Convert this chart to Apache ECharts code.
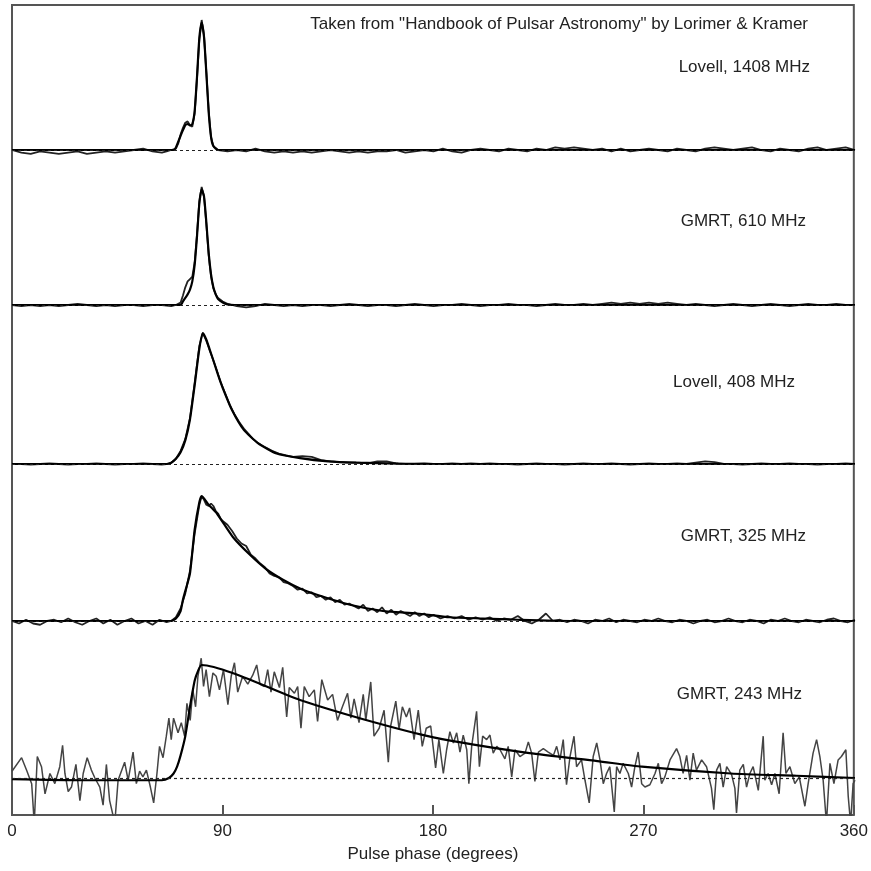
<!DOCTYPE html>
<html>
<head>
<meta charset="utf-8">
<script src="https://cdn.jsdelivr.net/npm/echarts@6/dist/echarts.min.js"></script>
<style>
  html, body { margin: 0; padding: 0; background: #fff; }
  #chart { width: 871px; height: 871px; }
</style>
</head>
<body>
<div id="chart"></div>
<script>
// tick labels on the phase axis
const phaseTicks = [0, 90, 180, 270, 360];
const labels = ['Lovell, 1408 MHz', 'GMRT, 610 MHz', 'Lovell, 408 MHz', 'GMRT, 325 MHz', 'GMRT, 243 MHz'];

// observed profiles, [phase (deg), normalised flux]
const obs1408 = [[0,0],[4,-0.02],[8,-0.03],[12,-0.01],[16,-0.02],[20,-0.03],[24,-0.02],[28,-0.01],[32,-0.03],[36,-0.02],[40,-0.01],[44,-0.02],[48,-0.01],[52,0.0],[56,0.01],[60,-0.01],[64,-0.02],[66,-0.01],[68,0.0],[70,0.01],[71,0.05],[72,0.12],[73,0.17],[74,0.21],[75,0.22],[76,0.19],[77,0.18],[78,0.28],[79,0.55],[80,0.85],[81,1.0],[82,0.88],[83,0.6],[84,0.3],[85,0.1],[86,0.03],[88,0.0],[92,-0.01],[96,0.0],[100,-0.01],[104,0.01],[108,-0.01],[112,-0.02],[116,-0.01],[120,-0.02],[124,-0.01],[128,-0.02],[132,-0.01],[136,0.0],[140,-0.01],[144,-0.02],[148,-0.01],[152,-0.02],[156,-0.01],[160,-0.01],[164,0.0],[168,-0.02],[172,-0.01],[176,0.0],[180,-0.01],[184,0.01],[188,-0.01],[192,-0.02],[196,0.0],[200,0.01],[204,0.0],[208,-0.01],[212,0.01],[216,0.0],[220,-0.01],[224,0.01],[228,0.0],[232,0.02],[236,0.01],[240,0.02],[244,0.01],[248,0.0],[252,0.01],[256,-0.01],[260,0.01],[264,-0.01],[268,0.0],[272,0.01],[276,0.0],[280,-0.01],[284,0.01],[288,0.0],[292,-0.01],[296,0.01],[300,0.02],[304,0.01],[308,0.0],[312,0.01],[316,0.02],[320,0.0],[324,-0.01],[328,0.01],[332,0.0],[336,-0.01],[340,0.01],[344,0.02],[348,0.0],[352,0.01],[356,0.02],[360,0.0]];
const obs610 = [[0,0],[4,-0.01],[8,0.0],[12,-0.01],[16,0.0],[20,-0.01],[24,0.0],[28,0.01],[32,0.0],[36,-0.01],[40,0.0],[44,-0.01],[48,0.0],[52,0.0],[56,-0.01],[60,0.0],[64,0.0],[68,-0.01],[70,0.0],[72,0.02],[73,0.08],[74,0.15],[75,0.2],[76,0.22],[77,0.24],[78,0.36],[79,0.6],[80,0.88],[81,1.0],[82,0.92],[83,0.68],[84,0.42],[85,0.24],[86,0.14],[87,0.09],[88,0.06],[90,0.03],[92,0.01],[94,0.0],[96,-0.01],[100,-0.02],[104,-0.01],[108,0.01],[112,0.0],[116,-0.01],[120,0.0],[124,-0.01],[128,0.0],[132,0.0],[136,-0.01],[140,0.0],[144,0.01],[148,0.0],[152,-0.01],[156,0.0],[160,0.0],[164,-0.01],[168,0.0],[172,0.01],[176,0.0],[180,-0.01],[184,0.0],[188,0.0],[192,0.01],[196,0.0],[200,-0.01],[204,0.0],[208,0.0],[212,0.01],[216,0.0],[220,0.0],[224,-0.01],[228,0.0],[232,0.01],[236,0.0],[240,0.0],[244,0.01],[248,0.0],[252,0.01],[256,0.02],[260,0.01],[264,0.02],[268,0.01],[272,0.02],[276,0.01],[280,0.02],[284,0.01],[288,0.0],[292,0.01],[296,0.0],[300,-0.01],[304,0.0],[308,0.01],[312,0.0],[316,-0.01],[320,0.0],[324,0.01],[328,0.0],[332,-0.01],[336,0.0],[340,0.01],[344,0.0],[348,0.0],[352,0.01],[356,0.0],[360,0.0]];
const obs408 = [[0,0],[4,0.0],[8,-0.005],[12,0.0],[16,0.005],[20,0.0],[24,-0.005],[28,0.0],[32,0.0],[36,0.005],[40,0.0],[44,-0.005],[48,0.0],[52,0.0],[56,0.005],[60,0.0],[64,-0.005],[66,0.0],[68,0.01],[70,0.04],[72,0.1],[74,0.19],[76,0.35],[78,0.62],[80,0.9],[81.5,1.0],[83,0.94],[85,0.84],[87,0.74],[89,0.63],[91,0.54],[93,0.45],[95,0.38],[97,0.32],[99,0.27],[101,0.23],[103,0.19],[105,0.16],[108,0.13],[111,0.1],[114,0.08],[117,0.065],[120,0.055],[124,0.06],[128,0.055],[132,0.03],[136,0.02],[140,0.015],[144,0.01],[148,0.01],[152,0.005],[156,0.02],[160,0.02],[164,0.005],[168,0.0],[172,0.0],[176,0.005],[180,0.0],[184,0.0],[188,0.005],[192,0.0],[196,0.005],[200,0.0],[204,0.005],[208,0.0],[212,0.0],[216,-0.005],[220,0.0],[224,0.005],[228,0.0],[232,0.0],[236,-0.005],[240,0.0],[244,0.005],[248,0.0],[252,0.0],[256,0.005],[260,0.0],[264,-0.005],[268,0.0],[272,0.005],[276,0.0],[280,0.0],[284,0.005],[288,0.0],[292,0.01],[296,0.02],[300,0.015],[304,0.0],[308,0.0],[312,-0.005],[316,0.0],[320,0.005],[324,0.0],[328,0.0],[332,0.005],[336,0.0],[340,0.0],[344,-0.005],[348,0.0],[352,0.0],[356,0.005],[360,0.0]];
const obs325 = [[0,0.0],[3,-0.02],[6,0.01],[9,-0.02],[12,-0.03],[15,0.0],[18,0.01],[21,-0.01],[24,0.02],[27,-0.01],[30,-0.03],[33,0.0],[36,0.02],[39,-0.02],[42,0.01],[45,-0.03],[48,0.0],[51,0.02],[54,-0.02],[57,0.0],[60,-0.03],[63,0.01],[66,-0.01],[68,0.0],[70,0.03],[72,0.1],[74,0.22],[76,0.4],[78,0.7],[80,0.93],[81,1.0],[82,0.97],[83,0.93],[84,0.92],[85,0.94],[86,0.92],[87,0.88],[88,0.86],[89,0.82],[90,0.8],[92,0.77],[94,0.72],[96,0.66],[98,0.62],[100,0.6],[102,0.53],[104,0.5],[106,0.46],[108,0.43],[110,0.38],[112,0.36],[114,0.35],[116,0.31],[118,0.3],[120,0.28],[122,0.25],[124,0.26],[126,0.22],[128,0.23],[130,0.19],[132,0.2],[134,0.17],[136,0.19],[138,0.15],[140,0.17],[142,0.13],[144,0.14],[146,0.12],[148,0.1],[150,0.13],[152,0.08],[154,0.1],[156,0.07],[158,0.11],[160,0.06],[162,0.09],[164,0.05],[166,0.08],[168,0.06],[170,0.04],[172,0.07],[174,0.04],[176,0.06],[178,0.03],[180,0.05],[183,0.02],[186,0.04],[189,0.02],[192,0.04],[195,0.01],[198,0.03],[201,0.01],[204,0.03],[207,0.0],[210,0.02],[213,0.01],[216,0.04],[219,0.0],[222,-0.02],[225,0.01],[228,0.06],[231,0.0],[234,0.01],[237,-0.01],[240,0.01],[243,0.0],[246,-0.02],[249,0.01],[252,0.0],[255,0.02],[258,-0.01],[261,0.01],[264,0.0],[267,-0.01],[270,0.01],[273,0.0],[276,0.02],[279,0.0],[282,-0.01],[285,0.01],[288,0.0],[291,-0.02],[294,0.0],[297,0.01],[300,-0.01],[303,0.0],[306,0.02],[309,0.0],[312,-0.01],[315,0.01],[318,0.0],[321,-0.02],[324,0.01],[327,0.0],[330,0.02],[333,0.0],[336,-0.01],[339,0.01],[342,0.0],[345,-0.01],[348,0.01],[351,0.02],[354,0.0],[357,-0.01],[360,0.01]];
const obs243 = [[0,0.06],[4.1,0.18],[6.2,0.07],[8.4,-0.05],[9.5,-0.4],[10.8,0.19],[12.6,0.1],[14.1,-0.14],[16.2,0.04],[18.3,-0.05],[20.4,0.1],[21.6,0.29],[22.6,0.04],[24,-0.12],[25.4,-0.08],[27.3,0.12],[29,-0.2],[30.4,0.04],[32.1,0.18],[33.9,0.07],[35.4,0.0],[37.5,-0.08],[38.9,-0.24],[40.3,0.12],[41.7,-0.2],[43.9,-0.4],[45.3,-0.02],[46.7,0.06],[48.1,0.14],[49.6,-0.02],[51.7,0.23],[53.1,-0.05],[54.5,0.06],[55.9,0.01],[57.4,0.07],[59.1,-0.08],[60.5,-0.22],[61.9,0.04],[63,0.28],[64.5,0.18],[65.9,0.37],[67,0.53],[68,0.34],[69,0.53],[70.9,0.4],[72.3,0.49],[73.7,0.37],[74.7,0.66],[76.1,0.51],[77.2,0.78],[78.4,0.63],[79.4,0.9],[80.8,1.06],[81.8,0.81],[82.9,0.96],[84.3,0.72],[85.8,0.93],[87.2,0.9],[88.6,0.78],[90.3,0.96],[92.2,0.65],[93.6,0.9],[95,1.02],[96.4,0.76],[98.5,0.9],[100.7,0.83],[102.8,0.91],[104.5,1.0],[105.9,0.83],[107.8,0.81],[109.2,0.96],[110.6,0.76],[112,0.94],[114.2,0.8],[115.6,0.98],[117.3,0.54],[118.4,0.8],[120.6,0.75],[122,0.81],[123.4,0.44],[124.8,0.81],[126.9,0.72],[129.1,0.78],[130.5,0.5],[132.3,0.87],[134.8,0.69],[136.9,0.74],[139,0.51],[141.1,0.63],[143.3,0.75],[144.7,0.53],[146.1,0.7],[148.2,0.49],[150,0.74],[151.1,0.51],[153.2,0.85],[154.6,0.37],[156.8,0.44],[158.9,0.6],[160.7,0.14],[161.7,0.46],[163.9,0.68],[165.3,0.43],[166.7,0.63],[168.4,0.54],[169.8,0.62],[171.7,0.34],[173.5,0.6],[175.2,0.28],[176.9,0.44],[178.8,0.46],[180.9,0.09],[182.3,0.34],[184.2,0.04],[185.6,0.25],[187,0.41],[188.5,0.31],[189.9,0.4],[191.3,0.23],[192.7,0.38],[194.2,0.25],[195.1,-0.05],[196.3,0.28],[198.4,0.59],[199.6,0.1],[201,0.37],[202.7,0.34],[204.1,0.38],[205.5,0.22],[207,0.28],[208.4,0.25],[210.5,0.17],[211.9,0.28],[213.4,0.01],[214.8,0.25],[216.9,0.19],[219.1,0.22],[220.5,0.32],[221.9,0.22],[223.3,-0.03],[224.8,0.23],[226.9,0.26],[229,0.23],[231.2,0.2],[232.6,0.28],[234,0.16],[235.4,0.34],[236.8,-0.06],[238.3,0.19],[240,0.37],[241.1,0.1],[243.2,0.16],[244.7,-0.02],[246.5,-0.22],[248.2,0.19],[249.7,0.31],[251.1,0.16],[252.5,-0.05],[253.9,0.04],[255.3,0.1],[257.2,-0.3],[258.2,0.1],[259.6,0.04],[261,0.13],[263.2,0.04],[264.6,-0.08],[266,0.1],[267.4,0.23],[268.9,-0.05],[270.3,-0.08],[272.4,-0.06],[274.6,0.04],[276,0.13],[277.4,-0.05],[278.8,0.01],[281,0.16],[283.8,0.26],[285.2,0.19],[286.6,0.04],[288.1,0.2],[289.5,-0.02],[290.9,0.22],[292.3,0.07],[294.5,0.16],[296.6,0.1],[298.7,-0.09],[299.7,-0.28],[300.9,0.07],[302.3,0.13],[303.7,-0.08],[305.2,0.1],[307.3,0.03],[308.7,-0.09],[309.4,-0.31],[310.8,0.07],[312.3,0.12],[313.7,-0.08],[315.1,0.04],[316.5,0.1],[318.7,-0.11],[320.8,0.37],[321.5,-0.02],[322.9,0.04],[324.4,-0.06],[325.8,0.04],[327.6,-0.14],[329.3,0.4],[330.5,0.04],[332.2,0.1],[334.3,-0.05],[336.2,0.01],[338.6,-0.25],[340,-0.05],[342.1,0.22],[343.6,0.34],[345,0.19],[346.4,-0.02],[347.8,-0.4],[349.3,0.13],[351,-0.05],[352.8,0.16],[354.2,0.19],[356.1,0.25],[357.1,-0.16],[358.1,-0.4],[359.2,-0.05],[360,-0.02]];

// fitted scattering models
const fit1408 = [[0,0],[69,0],[70,0.02],[72,0.11],[74,0.19],[75,0.2],[76,0.19],[77,0.2],[78,0.3],[79,0.56],[80,0.86],[81,0.98],[82,0.87],[83,0.59],[84,0.29],[85,0.1],[86,0.03],[88,0],[360,0]];
const fit610 = [[0,0],[72,0],[73,0.03],[74,0.06],[75,0.09],[76,0.13],[77,0.2],[78,0.34],[79,0.58],[80,0.86],[81,0.98],[82,0.92],[83,0.7],[84,0.44],[85,0.26],[86,0.15],[87,0.09],[88,0.05],[90,0.02],[92,0.005],[95,0],[360,0]];
const fit408 = [[0,0],[66,0],[68,0.01],[70,0.04],[72,0.09],[74,0.18],[76,0.34],[78,0.6],[80,0.88],[81.5,1.0],[83,0.95],[84.5,0.87],[86,0.79],[88,0.68],[90,0.58],[94,0.41],[99,0.26],[105,0.16],[113,0.08],[123,0.045],[135,0.02],[147,0.01],[165,0.003],[180,0],[360,0]];
const fit325 = [[0,0],[68,0],[70,0.02],[72,0.08],[73,0.17],[74,0.24],[76,0.38],[78,0.73],[80,0.95],[81,1.0],[84,0.93],[87.5,0.86],[94.4,0.67],[101.6,0.53],[108.9,0.41],[115.7,0.33],[123,0.26],[130.2,0.21],[144.3,0.13],[158.4,0.08],[172.9,0.06],[187,0.03],[201,0.02],[216,0.01],[240,0],[360,0]];
const fit243 = [[0,-0.01],[30,-0.02],[64,-0.02],[67,0.0],[69,0.04],[70.5,0.1],[72,0.2],[74,0.37],[76,0.63],[78,0.86],[79.5,0.95],[81,1.0],[123,0.69],[150,0.52],[180,0.36],[221,0.22],[250,0.15],[269,0.1],[307,0.04],[335,0.02],[360,0.0]];

const observed = [obs1408, obs610, obs408, obs325, obs243];
const fits = [fit1408, fit610, fit408, fit325, fit243];

// panel layout: pixel row of the zero line and pixels per unit flux
const panels = [
    { base: 150, scale: 130, lo: -0.3 },
    { base: 305, scale: 118, lo: -0.3 },
    { base: 464, scale: 131, lo: -0.3 },
    { base: 621, scale: 125, lo: -0.3 },
    { base: 778, scale: 113, lo: -0.33 }
];
const HI = 1.15;
const labelPos = [
    { right: 61, top: 59 },
    { right: 65, top: 213 },
    { right: 76, top: 374 },
    { right: 65, top: 528 },
    { right: 69, top: 686 }
];

const chart = echarts.init(document.getElementById('chart'));
const font = 'Liberation Sans, Helvetica, Arial, sans-serif';

const grid = [], xAxis = [], yAxis = [], series = [];
panels.forEach((p, i) => {
    grid.push({ left: 12, right: 16, top: p.base - HI * p.scale, height: (HI - p.lo) * p.scale });
    xAxis.push({ gridIndex: i, type: 'value', min: 0, max: 360, show: false });
    yAxis.push({ gridIndex: i, type: 'value', min: p.lo, max: HI, show: false });
    series.push({
        type: 'line',
        xAxisIndex: i,
        yAxisIndex: i,
        data: observed[i],
        showSymbol: false,
        silent: true,
        z: 2,
        lineStyle: { color: i === 4 ? '#444' : '#222', width: i === 4 ? 1.5 : 1.8 }
    });
    series.push({
        type: 'line',
        xAxisIndex: i,
        yAxisIndex: i,
        data: fits[i],
        showSymbol: false,
        smooth: 0.2,
        silent: true,
        z: 3,
        lineStyle: { color: '#000', width: 2.2 },
        markLine: {
            silent: true,
            symbol: 'none',
            label: { show: false },
            lineStyle: { color: '#222', type: [3, 3], width: 1.2 },
            data: [{ yAxis: 0 }]
        }
    });
});

// outer frame with the phase axis
grid.push({ left: 12, right: 16, top: 5, bottom: 56, show: true, borderColor: '#555', borderWidth: 2 });
xAxis.push({
    gridIndex: 5,
    type: 'value',
    min: 0,
    max: 360,
    interval: 90,
    name: 'Pulse phase (degrees)',
    nameLocation: 'middle',
    nameGap: 31,
    nameTextStyle: { fontSize: 17, color: '#222', fontFamily: font },
    axisLine: { show: false },
    axisTick: { inside: true, length: 10, lineStyle: { color: '#555', width: 2 } },
    axisLabel: {
        fontSize: 17, color: '#222', fontFamily: font, margin: 8,
        formatter: v => phaseTicks.includes(v) ? String(v) : ''
    },
    splitLine: { show: false }
});
yAxis.push({ gridIndex: 5, type: 'value', min: 0, max: 1, show: false });

const title = [{
    text: 'Taken from "Handbook of Pulsar Astronomy" by Lorimer & Kramer',
    right: 63, top: 16, padding: 0,
    textStyle: { fontSize: 17, fontWeight: 'normal', color: '#222', fontFamily: font }
}];
labels.forEach((t, i) => {
    title.push({
        text: t, right: labelPos[i].right, top: labelPos[i].top, padding: 0,
        textStyle: { fontSize: 17, fontWeight: 'normal', color: '#222', fontFamily: font }
    });
});

chart.setOption({
    animation: false,
    backgroundColor: '#fff',
    title: title,
    grid: grid,
    xAxis: xAxis,
    yAxis: yAxis,
    series: series
});
</script>
</body>
</html>
